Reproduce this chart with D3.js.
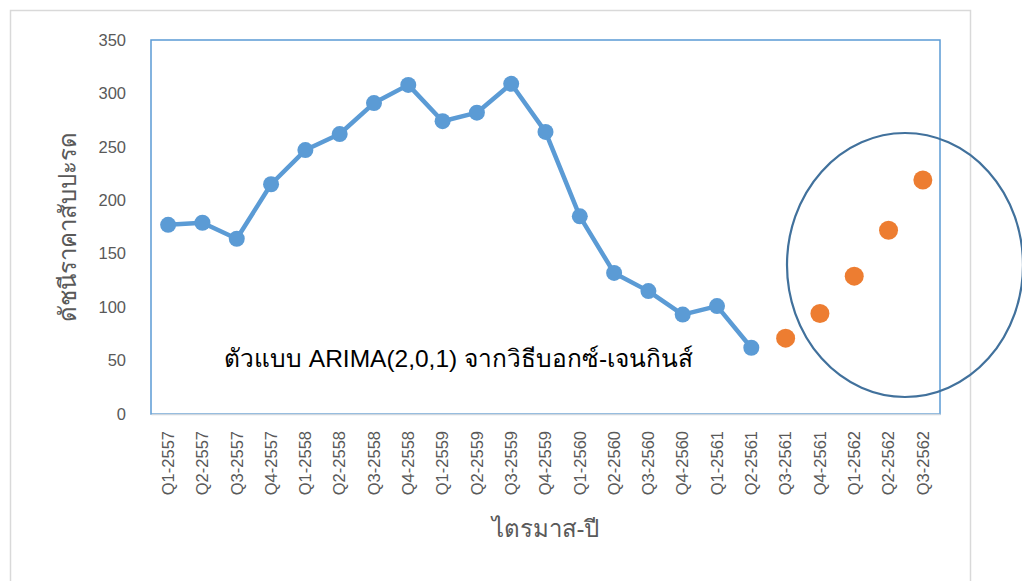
<!DOCTYPE html>
<html>
<head>
<meta charset="utf-8">
<script src="https://cdn.jsdelivr.net/npm/d3@7"></script>
<style>
  body { margin: 0; background: #fff; }
  svg { display: block; font-family: "Liberation Sans", Arial, sans-serif; }
</style>
</head>
<body>
<svg id="chart" width="1022" height="581"></svg>
<script>
var quarters = ["Q1-2557", "Q2-2557", "Q3-2557", "Q4-2557", "Q1-2558", "Q2-2558", "Q3-2558", "Q4-2558",
    "Q1-2559", "Q2-2559", "Q3-2559", "Q4-2559", "Q1-2560", "Q2-2560", "Q3-2560", "Q4-2560",
    "Q1-2561", "Q2-2561", "Q3-2561", "Q4-2561", "Q1-2562", "Q2-2562", "Q3-2562"];
var actualValues = [177, 179, 164, 215, 247, 262, 291, 308, 274, 282, 309, 264, 185, 132, 115, 93, 101, 62];
var forecastValues = [71, 94, 129, 172, 219];
var yTicks = [0, 50, 100, 150, 200, 250, 300, 350];

var svg = d3.select("#chart");
var margin = { top: 40, right: 82, bottom: 167, left: 151 };
var width = 1022 - margin.left - margin.right;
var height = 581 - margin.top - margin.bottom;

// outer chart border
svg.append("rect")
    .attr("x", 10.5).attr("y", 10.5)
    .attr("width", 960).attr("height", 590)
    .attr("fill", "none").attr("stroke", "#d9d9d9").attr("stroke-width", 1.5);

var g = svg.append("g").attr("transform", "translate(" + margin.left + "," + margin.top + ")");

var x = d3.scaleBand().domain(quarters).range([0, width]);
var y = d3.scaleLinear().domain([0, 350]).range([height, 0]);

// plot area border
g.append("rect")
    .attr("width", width).attr("height", height)
    .attr("fill", "none").attr("stroke", "#5b9bd5").attr("stroke-width", 1.5);

// y axis labels
g.append("g").call(d3.axisLeft(y).tickValues(yTicks).tickSize(0).tickPadding(25))
    .call(function (a) { a.select(".domain").remove(); })
    .selectAll("text").attr("font-size", 16.5).attr("fill", "#595959");

// x axis
var xAxis = g.append("g").attr("transform", "translate(0," + height + ")")
    .call(d3.axisBottom(x).tickSize(0));
xAxis.select(".domain").attr("stroke", "#d0d7de").attr("stroke-width", 1.5);
xAxis.selectAll("text")
    .attr("font-size", 16.5).attr("fill", "#595959")
    .attr("transform", "rotate(-90)")
    .attr("text-anchor", "end")
    .attr("dx", "-17").attr("dy", "0.35em").attr("y", 0);

var cx = function (d, i) { return x(quarters[i]) + x.bandwidth() / 2; };

var line = d3.line()
    .x(function (d, i) { return cx(d, i); })
    .y(function (d) { return y(d); });

g.append("path").datum(actualValues)
    .attr("d", line).attr("fill", "none")
    .attr("stroke", "#5b9bd5").attr("stroke-width", 4.5).attr("stroke-linejoin", "round");

g.selectAll("circle.actual").data(actualValues).enter().append("circle")
    .attr("class", "actual")
    .attr("cx", cx).attr("cy", function (d) { return y(d); })
    .attr("r", 8).attr("fill", "#5b9bd5");

g.selectAll("circle.forecast").data(forecastValues).enter().append("circle")
    .attr("class", "forecast")
    .attr("cx", function (d, i) { return cx(d, i + actualValues.length); })
    .attr("cy", function (d) { return y(d); })
    .attr("r", 9.5).attr("fill", "#ed7d31");

// ellipse around forecasts
svg.append("ellipse")
    .attr("cx", 905).attr("cy", 265).attr("rx", 118).attr("ry", 132)
    .attr("fill", "none").attr("stroke", "#41719c").attr("stroke-width", 2.2);

// annotation
g.append("text")
    .attr("x", 73).attr("y", 327)
    .attr("font-size", 24.5).attr("fill", "#000")
    .text("ตัวแบบ ARIMA(2,0,1) จากวิธีบอกซ์-เจนกินส์");

// axis titles
svg.append("text")
    .attr("transform", "translate(76," + (margin.top + height / 2) + ") rotate(-90)")
    .attr("text-anchor", "middle")
    .attr("font-size", 24).attr("fill", "#595959")
    .text("ดัชนีราคาสับปะรด");

svg.append("text")
    .attr("x", margin.left + width / 2).attr("y", 537)
    .attr("text-anchor", "middle")
    .attr("font-size", 24).attr("fill", "#595959")
    .text("ไตรมาส-ปี");
</script>
</body>
</html>
